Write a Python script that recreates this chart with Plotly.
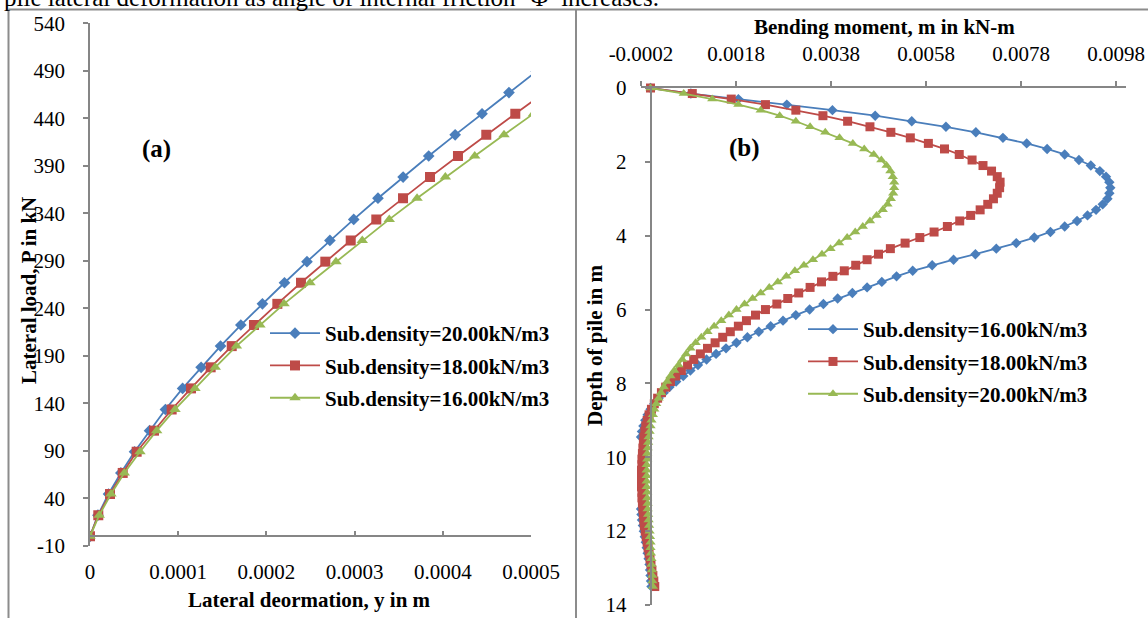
import plotly.graph_objects as go

W, H = 1148, 618
FONT = "Liberation Serif"

# ---------------- panel (a): lateral load vs lateral deformation ----------------
load_kN = [0, 22.2, 44.5, 66.7, 89.0, 111.2, 133.5, 155.7, 177.9, 200.2, 222.4, 244.7,
           266.9, 289.1, 311.4, 333.6, 355.9, 378.1, 400.3, 422.6, 444.8, 467.1, 489.3]

defl_gamma20 = [0, 0.9e-5, 2.1e-5, 3.5e-5, 5.05e-5, 6.75e-5, 8.55e-5, 10.5e-5, 12.6e-5,
                14.8e-5, 17.1e-5, 19.55e-5, 22.05e-5, 24.6e-5, 27.2e-5, 29.9e-5, 32.65e-5,
                35.5e-5, 38.4e-5, 41.4e-5, 44.45e-5, 47.5e-5, 50.6e-5]
defl_gamma18 = [0, 0.94e-5, 2.27e-5, 3.71e-5, 5.29e-5, 7.26e-5, 9.26e-5, 11.45e-5, 13.68e-5,
                16.07e-5, 18.59e-5, 21.24e-5, 23.92e-5, 26.68e-5, 29.56e-5, 32.46e-5,
                35.49e-5, 38.55e-5, 41.72e-5, 44.93e-5, 48.22e-5, 51.56e-5]
defl_gamma16 = [0, 1.05e-5, 2.38e-5, 3.89e-5, 5.67e-5, 7.56e-5, 9.64e-5, 11.9e-5, 14.2e-5,
                16.6e-5, 19.27e-5, 22.0e-5, 24.94e-5, 27.89e-5, 30.87e-5, 33.93e-5, 37.08e-5,
                40.29e-5, 43.62e-5, 46.94e-5, 50.28e-5]

a_x_range = [0, 0.0005]
a_y_range = [-10, 540]
a_x_ticks = [0, 0.0001, 0.0002, 0.0003, 0.0004, 0.0005]
a_x_ticktext = ["0", "0.0001", "0.0002", "0.0003", "0.0004", "0.0005"]
a_y_ticks = [-10, 40, 90, 140, 190, 240, 290, 340, 390, 440, 490, 540]
a_y_ticktext = ["-10", "40", "90", "140", "190", "240", "290", "340", "390", "440", "490", "540"]

# ---------------- panel (b): bending moment vs depth ----------------
depth_m = [0.0, 0.15, 0.3, 0.45, 0.6, 0.75, 0.9, 1.05, 1.2, 1.35, 1.5, 1.65, 1.8, 1.95,
           2.1, 2.25, 2.4, 2.55, 2.7, 2.85, 3.0, 3.15, 3.3, 3.45, 3.6, 3.75, 3.9, 4.05,
           4.2, 4.35, 4.5, 4.65, 4.8, 4.95, 5.1, 5.25, 5.4, 5.55, 5.7, 5.85, 6.0, 6.15,
           6.3, 6.45, 6.6, 6.75, 6.9, 7.05, 7.2, 7.35, 7.5, 7.65, 7.8, 7.95, 8.1, 8.25,
           8.4, 8.55, 8.7, 8.85, 9.0, 9.15, 9.3, 9.45, 9.6, 9.75, 9.9, 10.05, 10.2,
           10.35, 10.5, 10.65, 10.8, 10.95, 11.1, 11.25, 11.4, 11.55, 11.7, 11.85, 12.0,
           12.15, 12.3, 12.45, 12.6, 12.75, 12.9, 13.05, 13.2, 13.35, 13.5]

moment_gamma16 = [
    0, 0.00085, 0.00185, 0.00287, 0.00383, 0.00473, 0.0055, 0.00622, 0.00685, 0.00742,
    0.00792, 0.00835, 0.00872, 0.00902, 0.00927, 0.00946, 0.00959, 0.00966, 0.00968, 0.00966,
    0.00962, 0.00952, 0.00938, 0.0092, 0.00898, 0.00872, 0.00842, 0.00808, 0.0077, 0.00728,
    0.00684, 0.00638, 0.00593, 0.00552, 0.00518, 0.00487, 0.00456, 0.00425, 0.00394, 0.00364,
    0.00335, 0.00306, 0.00279, 0.00253, 0.00228, 0.00204, 0.00181, 0.00159, 0.00138, 0.00118,
    0.001, 0.00084, 0.00069, 0.00054, 0.0004, 0.00028, 0.00017, 0.00008, 0.0, -0.00006,
    -0.00011, -0.00015, -0.00018, -0.0002, -0.00021, -0.00022, -0.00022, -0.00022, -0.00022, -0.00022,
    -0.00022, -0.00022, -0.00022, -0.00021, -0.00021, -0.00021, -0.0002, -0.00019, -0.00018, -0.00016,
    -0.00014, -0.00012, -0.0001, -0.00008, -0.00006, -0.00004, -0.00002, -0.00001, 0.0, 0.00001, 0.00002]

moment_gamma18 = [
    0, 0.00088, 0.0017, 0.00242, 0.00306, 0.00363, 0.00415, 0.00462, 0.00506, 0.00547,
    0.00585, 0.00619, 0.0065, 0.00677, 0.007, 0.00718, 0.0073, 0.00736, 0.00735, 0.0073,
    0.00722, 0.0071, 0.00694, 0.00674, 0.00651, 0.00625, 0.00597, 0.00567, 0.00536, 0.00505,
    0.0048, 0.00456, 0.00432, 0.00408, 0.00384, 0.0036, 0.00336, 0.00312, 0.00289, 0.00266,
    0.00242, 0.00221, 0.00202, 0.00185, 0.00168, 0.00152, 0.00136, 0.0012, 0.00105, 0.00091,
    0.00078, 0.00065, 0.00053, 0.00042, 0.00032, 0.00023, 0.00015, 0.00008, 0.00002, -0.00003,
    -0.00007, -0.0001, -0.00012, -0.00014, -0.00015, -0.00016, -0.00017, -0.00018, -0.00018, -0.00019,
    -0.00019, -0.00019, -0.00019, -0.00018, -0.00018, -0.00017, -0.00016, -0.00015, -0.00014, -0.00013,
    -0.00011, -0.00009, -0.00007, -0.00005, -0.00003, -0.00001, 0.00001, 0.00003, 0.00005, 0.00007, 0.00009]

moment_gamma20 = [
    0, 0.0007, 0.0013, 0.00185, 0.00232, 0.00272, 0.00306, 0.00336, 0.00368, 0.00398,
    0.00426, 0.0045, 0.0047, 0.00486, 0.00497, 0.00505, 0.0051, 0.00513, 0.00513, 0.00511,
    0.00506, 0.00499, 0.00489, 0.00476, 0.00462, 0.00447, 0.00431, 0.00414, 0.00397, 0.00379,
    0.00361, 0.00342, 0.00323, 0.00304, 0.00286, 0.00268, 0.0025, 0.00232, 0.00215, 0.00198,
    0.00181, 0.00165, 0.00149, 0.00134, 0.0012, 0.00107, 0.00095, 0.00084, 0.00075, 0.00067,
    0.00059, 0.0005, 0.00042, 0.00035, 0.00028, 0.00022, 0.00017, 0.00012, 0.00008, 0.00005,
    0.00002, 0.0, -0.00002, -0.00004, -0.00005, -0.00006, -0.00007, -0.00007, -0.00008, -0.00008,
    -0.00008, -0.00008, -0.00008, -0.00007, -0.00007, -0.00006, -0.00006, -0.00005, -0.00004, -0.00003,
    -0.00002, -0.00001, 0.0, 0.0, 0.00001, 0.00002, 0.00002, 0.00003, 0.00004, 0.00004, 0.00005]

b_x_range = [-0.0002, 0.01]
b_y_range = [14, 0]
b_x_ticks = [-0.0002, 0.0018, 0.0038, 0.0058, 0.0078, 0.0098]
b_x_ticktext = ["-0.0002", "0.0018", "0.0038", "0.0058", "0.0078", "0.0098"]
b_y_ticks = [0, 2, 4, 6, 8, 10, 12, 14]

series_names = ["Sub.density=20.00kN/m3", "Sub.density=18.00kN/m3", "Sub.density=16.00kN/m3"]

BLUE, RED, GREEN = "#4A7EBB", "#BE4B48", "#98B954"
AXIS = "#868686"


def px_x(p):
    return p / W


def px_y(p):
    return 1 - p / H


# plot-area placement (pixels)
a_dom_x = [px_x(90), px_x(531)]
a_dom_y = [px_y(545.8), px_y(23.3)]
b_dom_x = [px_x(641), px_x(1125.5)]
b_dom_y = [px_y(605), px_y(88)]

# horizontal axis of (a) crosses at load = 0; vertical axis of (b) crosses at moment = 0
a_xaxis_pos = a_dom_y[0] + (0 - a_y_range[0]) / (a_y_range[1] - a_y_range[0]) * (a_dom_y[1] - a_dom_y[0])
b_yaxis_pos = b_dom_x[0] + (0 - b_x_range[0]) / (b_x_range[1] - b_x_range[0]) * (b_dom_x[1] - b_dom_x[0])

fig = go.Figure()

styles = [(BLUE, "diamond", 9), (RED, "square", 10), (GREEN, "triangle-up", 10)]
a_defl = [defl_gamma20, defl_gamma18, defl_gamma16]
for i, (name, defl, (col, sym, size)) in enumerate(zip(series_names, a_defl, styles)):
    fig.add_trace(go.Scatter(
        x=defl, y=load_kN[:len(defl)], name=name, mode="lines+markers",
        line=dict(color=col, width=1.8),
        marker=dict(symbol=sym, size=size, color=col),
        xaxis="x", yaxis="y", legend="legend", legendgroup=f"a{i}",
    ))

b_names = [series_names[2], series_names[1], series_names[0]]
b_moment = [moment_gamma16, moment_gamma18, moment_gamma20]
b_styles = [(BLUE, "diamond", 8), (RED, "square", 9), (GREEN, "triangle-up", 9)]
for i, (name, mom, (col, sym, size)) in enumerate(zip(b_names, b_moment, b_styles)):
    fig.add_trace(go.Scatter(
        x=mom, y=depth_m, name=name, mode="lines+markers",
        line=dict(color=col, width=1.8),
        marker=dict(symbol=sym, size=size, color=col),
        xaxis="x2", yaxis="y2", legend="legend2", legendgroup=f"b{i}",
        cliponaxis=False,
    ))

tick_font = dict(family=FONT, size=21, color="black")
axis_common = dict(showgrid=False, zeroline=False, showline=True, linecolor=AXIS,
                   linewidth=1.5, tickcolor=AXIS, tickwidth=1.5, ticklen=5,
                   tickfont=tick_font, fixedrange=True, automargin=False)

legend_common = dict(bgcolor="rgba(0,0,0,0)", borderwidth=0, traceorder="grouped",
                     tracegroupgap=2, itemwidth=50,
                     font=dict(family=FONT, size=21, color="black", weight="bold"),
                     xanchor="left", yanchor="top")

fig.update_layout(
    width=W, height=H, margin=dict(l=0, r=0, t=0, b=0, autoexpand=False),
    paper_bgcolor="white", plot_bgcolor="white",
    showlegend=True,
    xaxis=dict(domain=a_dom_x, range=a_x_range, anchor="free", position=a_xaxis_pos,
               tickmode="array", tickvals=a_x_ticks, ticktext=a_x_ticktext,
               ticks="inside", ticklabelstandoff=17, **axis_common),
    yaxis=dict(domain=a_dom_y, range=a_y_range, anchor="x",
               tickmode="array", tickvals=a_y_ticks, ticktext=a_y_ticktext,
               ticks="outside", ticklabelstandoff=14, **axis_common),
    xaxis2=dict(domain=b_dom_x, range=b_x_range, anchor="y2", side="top",
                tickmode="array", tickvals=b_x_ticks, ticktext=b_x_ticktext,
                ticks="outside", ticklabelstandoff=12, **axis_common),
    yaxis2=dict(domain=b_dom_y, range=b_y_range, anchor="free", position=b_yaxis_pos,
                tickmode="array", tickvals=b_y_ticks,
                ticks="outside", ticklabelstandoff=14, **axis_common),
    legend=dict(x=px_x(265), y=px_y(313), **legend_common),
    legend2=dict(x=px_x(803), y=px_y(309), **legend_common),
)

bold = dict(family=FONT, size=21, color="black", weight="bold")
notes = [
    ("Lateral deormation, y in m", 309, 600, 0, bold),
    ("Lateral load, P in kN", 29, 291, -90, bold),
    ("Bending moment, m in kN-m", 884, 27, 0, bold),
    ("Depth of pile in m", 595, 345, -90, bold),
    ("(a)", 157, 149, 0, dict(family=FONT, size=25, color="black", weight="bold")),
    ("(b)", 744, 148, 0, dict(family=FONT, size=25, color="black", weight="bold")),
]
for text, x, y, ang, f in notes:
    fig.add_annotation(text=text, x=px_x(x), y=px_y(y), xref="paper", yref="paper",
                       xanchor="center", yanchor="middle", textangle=ang,
                       showarrow=False, font=f)

fig.add_annotation(text="pile lateral deformation as angle of internal friction ‘Φ’ increases.",
                   x=px_x(2), y=px_y(13), xref="paper", yref="paper",
                   xanchor="left", yanchor="bottom", showarrow=False,
                   font=dict(family=FONT, size=25, color="black"))

frame = dict(color="#8C8C8C", width=2)
for x0, y0, x1, y1 in [(8.5, 9.5, 8.5, H), (8.5, 9.5, W, 9.5), (576, 9.5, 576, H)]:
    fig.add_shape(type="line", xref="paper", yref="paper",
                  x0=px_x(x0), y0=px_y(y0), x1=px_x(x1), y1=px_y(y1), line=frame)

fig.write_html("out.html")
